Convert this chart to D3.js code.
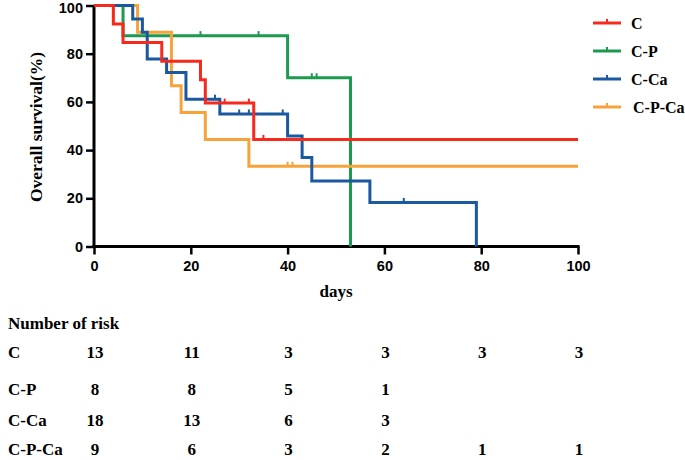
<!DOCTYPE html>
<html>
<head>
<meta charset="utf-8">
<script src="https://cdn.jsdelivr.net/npm/d3@7"></script>
<style>
  html, body { margin: 0; padding: 0; background: #fff; }
  svg { display: block; }
</style>
</head>
<body>
<svg id="chart" width="685" height="460"></svg>
<script>
// ---------------- data ----------------
const categories = ["C", "C-P", "C-Ca", "C-P-Ca"];
const colors = ["#f7281c", "#1b9a50", "#1a58a0", "#f8a23a"];

const timesC = [0, 4, 6, 14, 22, 23, 33, 100];
const survC  = [100, 92.3, 84.6, 76.9, 69.2, 59.5, 44.4, 44.4];
const censC  = [27, 32, 35];

const timesCP = [0, 6, 40, 53];
const survCP  = [100, 87.5, 70.0, 0];
const censCP  = [22, 34, 45, 46];

const timesCCa = [0, 8, 10, 11, 15, 19, 26, 40, 43, 45, 57, 79];
const survCCa  = [100, 94.4, 88.9, 77.8, 72.2, 61.1, 55.0, 45.8, 36.9, 27.2, 18.3, 0];
const censCCa  = [25, 30, 32, 39, 64];

const timesCPCa = [0, 9, 16, 18, 23, 32, 100];
const survCPCa  = [100, 88.9, 66.7, 55.6, 44.4, 33.3, 33.3];
const censCPCa  = [40, 41];

const xTicks = [0, 20, 40, 60, 80, 100];
const yTicks = [0, 20, 40, 60, 80, 100];

const riskTimes = [0, 20, 40, 60, 80, 100];
const riskC    = [13, 11, 3, 3, 3, 3];
const riskCP   = [8, 8, 5, 1];
const riskCCa  = [18, 13, 6, 3];
const riskCPCa = [9, 6, 3, 2, 1, 1];

const seriesTimes = [timesC, timesCP, timesCCa, timesCPCa];
const seriesSurv  = [survC, survCP, survCCa, survCPCa];
const seriesCens  = [censC, censCP, censCCa, censCPCa];
const seriesRisk  = [riskC, riskCP, riskCCa, riskCPCa];

// ---------------- layout ----------------
const svg = d3.select("#chart");
const x = d3.scaleLinear().domain([0, 100]).range([94, 578]);
const y = d3.scaleLinear().domain([0, 100]).range([246.5, 5.5]);
const serif = "'Liberation Serif', 'Times New Roman', serif";
const sans = "'Liberation Sans', Arial, sans-serif";

// axes
const gx = svg.append("g").attr("transform", `translate(0,${y(0)})`)
  .call(d3.axisBottom(x).tickValues(xTicks).tickSize(8).tickPadding(6).tickFormat(d3.format("d")));
const gy = svg.append("g").attr("transform", `translate(${x(0)},0)`)
  .call(d3.axisLeft(y).tickValues(yTicks).tickSize(8).tickPadding(3).tickFormat(d3.format("d")));
[gx, gy].forEach(g => {
  g.select(".domain").attr("stroke", "#000").attr("stroke-width", 3);
  g.selectAll(".tick line").attr("stroke", "#000").attr("stroke-width", 2.5);
  g.selectAll(".tick text").attr("fill", "#000")
    .style("font-family", sans).style("font-weight", "bold").style("font-size", "14.5px");
});
// keep the top label inside the picture
gy.selectAll(".tick text").filter(d => d === 100).attr("dy", "0.5em");
gx.select(".domain").attr("d", `M${x(0) - 1.5},0H${x(100) + 1.5}`);
gy.select(".domain").attr("d", `M0,${y(0) + 1.5}V${y(100)}`);

// axis titles
svg.append("text").attr("x", 336).attr("y", 297).attr("text-anchor", "middle")
  .style("font-family", serif).style("font-weight", "bold").style("font-size", "17px").text("days");
svg.append("text").attr("transform", "translate(42,127) rotate(-90)").attr("text-anchor", "middle")
  .style("font-family", serif).style("font-weight", "bold").style("font-size", "17.5px").text("Overall survival(%)");

// curves
const line = d3.line().x(d => x(d[0])).y(d => y(d[1])).curve(d3.curveStepAfter);
function survAt(times, surv, t) {
  let s = surv[0];
  for (let i = 0; i < times.length; i++) if (times[i] <= t) s = surv[i];
  return s;
}
const drawOrder = [1, 3, 2, 0];
drawOrder.forEach(i => {
  const pts = seriesTimes[i].map((t, k) => [t, seriesSurv[i][k]]);
  svg.append("path").attr("d", line(pts)).attr("fill", "none")
    .attr("stroke", colors[i]).attr("stroke-width", 3).attr("stroke-linejoin", "miter");
  svg.selectAll(null).data(seriesCens[i]).enter().append("line")
    .attr("x1", d => x(d)).attr("x2", d => x(d))
    .attr("y1", d => y(survAt(seriesTimes[i], seriesSurv[i], d)))
    .attr("y2", d => y(survAt(seriesTimes[i], seriesSurv[i], d)) - 4.5)
    .attr("stroke", colors[i]).attr("stroke-width", 2);
});

// legend
const legY = [23, 51, 79, 107];
categories.forEach((c, i) => {
  const g = svg.append("g").attr("transform", `translate(0,${legY[i]})`);
  g.append("line").attr("x1", 593).attr("x2", 621).attr("y1", 0).attr("y2", 0)
    .attr("stroke", colors[i]).attr("stroke-width", 3);
  g.append("line").attr("x1", 607).attr("x2", 607).attr("y1", 0).attr("y2", -4)
    .attr("stroke", colors[i]).attr("stroke-width", 2);
  g.append("text").attr("x", i === 3 ? 633 : 631).attr("y", 6)
    .style("font-family", serif).style("font-weight", "bold").style("font-size", "16px").text(c);
});

// risk table
svg.append("text").attr("x", 8).attr("y", 329)
  .style("font-family", serif).style("font-weight", "bold").style("font-size", "17px").text("Number of risk");
const rowY = [358, 395, 426, 455];
categories.forEach((c, i) => {
  svg.append("text").attr("x", 8).attr("y", rowY[i])
    .style("font-family", serif).style("font-weight", "bold").style("font-size", "17px").text(c);
  svg.selectAll(null).data(seriesRisk[i]).enter().append("text")
    .attr("x", (d, k) => x(riskTimes[k]) + 1).attr("y", rowY[i]).attr("text-anchor", "middle")
    .style("font-family", serif).style("font-weight", "bold").style("font-size", "17px").text(d => d);
});
</script>
</body>
</html>
